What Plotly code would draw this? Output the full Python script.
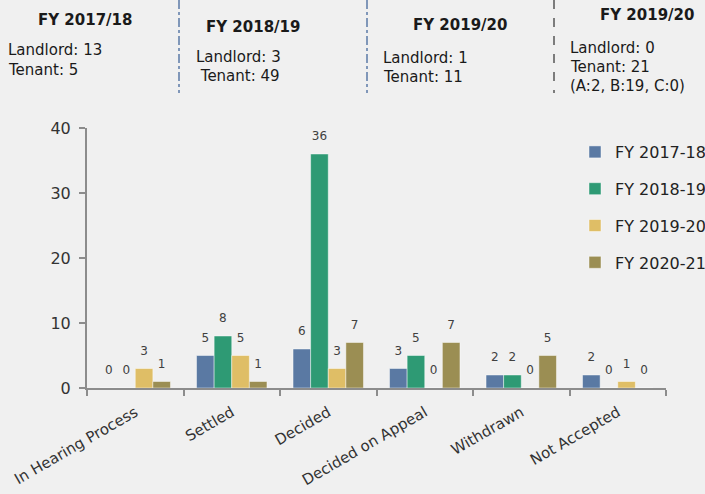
import plotly.graph_objects as go

categories = ["In Hearing Process", "Settled", "Decided", "Decided on Appeal", "Withdrawn", "Not Accepted"]
series_names = ["FY 2017-18", "FY 2018-19", "FY 2019-20", "FY 2020-21"]
fy1718 = [0, 5, 6, 3, 2, 2]
fy1819 = [0, 8, 36, 5, 2, 0]
fy1920 = [3, 5, 3, 0, 0, 1]
fy2021 = [1, 1, 7, 7, 5, 0]
colors = ["#5a79a3", "#2e9a74", "#dfbe66", "#9b8e53"]
y_ticks = [0, 10, 20, 30, 40]

W, H = 705, 494
ML, MR, MT, MB = 87, 39, 128, 106
PW, PH = W - ML - MR, H - MT - MB


def px(x):
    return (x - ML) / PW


def py(y):
    return (H - MB - y) / PH


FONT = "DejaVu Sans"
BARGAP = 0.27
fig = go.Figure()
for name, vals, col in zip(series_names, [fy1718, fy1819, fy1920, fy2021], colors):
    fig.add_trace(go.Bar(
        x=categories, y=vals, name=name, legendgroup=name,
        marker=dict(color=col, line=dict(color="rgba(255,255,255,0.45)", width=1)),
    ))
for name, vals in zip(series_names, [fy1718, fy1819, fy1920, fy2021]):
    fig.add_trace(go.Scatter(
        x=categories, y=vals, mode="markers+text", showlegend=False, legendgroup=name,
        marker=dict(size=16, opacity=0), text=[str(v) for v in vals],
        textposition="top center", textfont=dict(size=12, color="#404040", family=FONT),
        cliponaxis=False, hoverinfo="skip",
    ))

fig.update_layout(
    width=W, height=H,
    margin=dict(l=ML, r=MR, t=MT, b=MB, autoexpand=False),
    paper_bgcolor="#f0f0f0", plot_bgcolor="#f0f0f0",
    font=dict(family=FONT, color="#333333"),
    barmode="group", bargap=BARGAP, bargroupgap=0,
    scattermode="group", scattergap=BARGAP,
    showlegend=True,
    legend=dict(x=px(575), y=py(135), xanchor="left", yanchor="top",
                font=dict(size=16, color="#222222", family=FONT),
                traceorder="grouped", tracegroupgap=13,
                bgcolor="rgba(0,0,0,0)", itemwidth=30),
    xaxis=dict(showline=True, linecolor="#8c8c8c", linewidth=2,
               ticks="outside", tickson="boundaries", ticklen=6, tickcolor="#8c8c8c", tickwidth=2,
               tickangle=-30, tickfont=dict(size=15, color="#333333", family=FONT),
               ticklabelstandoff=8, showgrid=False),
    yaxis=dict(range=[0, 40], tickvals=y_ticks, showline=True, linecolor="#8c8c8c", linewidth=2,
               ticks="outside", ticklen=6, tickcolor="#8c8c8c", tickwidth=2,
               tickfont=dict(size=16, color="#333333", family=FONT),
               ticklabelstandoff=5, showgrid=False, zeroline=False),
)

annotations = [
    ("<b>FY 2017/18</b>", 85, 20, "center", 15),
    ("Landlord: 13", 6, 50, "left", 15),
    ("Tenant: 5", 6, 70, "left", 15),
    ("<b>FY 2018/19</b>", 253, 27, "center", 15),
    ("Landlord: 3", 194, 57, "left", 15),
    (" Tenant: 49", 194, 76, "left", 15),
    ("<b>FY 2019/20</b>", 460, 25, "center", 15),
    ("Landlord: 1", 381, 58, "left", 15),
    ("Tenant: 11", 381, 77, "left", 15),
    ("<b>FY 2019/20</b>", 647, 15, "center", 15),
    ("Landlord: 0", 568, 48, "left", 15),
    ("Tenant: 21", 568, 67, "left", 15),
    ("(A:2, B:19, C:0)", 568, 86, "left", 15),
]
for text, x, y, anchor, size in annotations:
    fig.add_annotation(text=text, x=px(x), y=py(y), xref="paper", yref="paper",
                       xanchor=anchor, yanchor="middle", showarrow=False,
                       font=dict(size=size, color="#1a1a1a", family=FONT))

for x, col, dash in [(179, "#5b7aa6", "dashdot"), (367, "#5b7aa6", "dashdot"), (554, "#555555", "dash")]:
    fig.add_shape(type="line", xref="paper", yref="paper", x0=px(x), x1=px(x), y0=py(0), y1=py(93),
                  line=dict(color=col, width=1.5, dash=dash))

fig.write_html("out.html", config={"displayModeBar": False},
               post_script="document.body.style.margin='0';document.body.style.overflow='hidden';")
